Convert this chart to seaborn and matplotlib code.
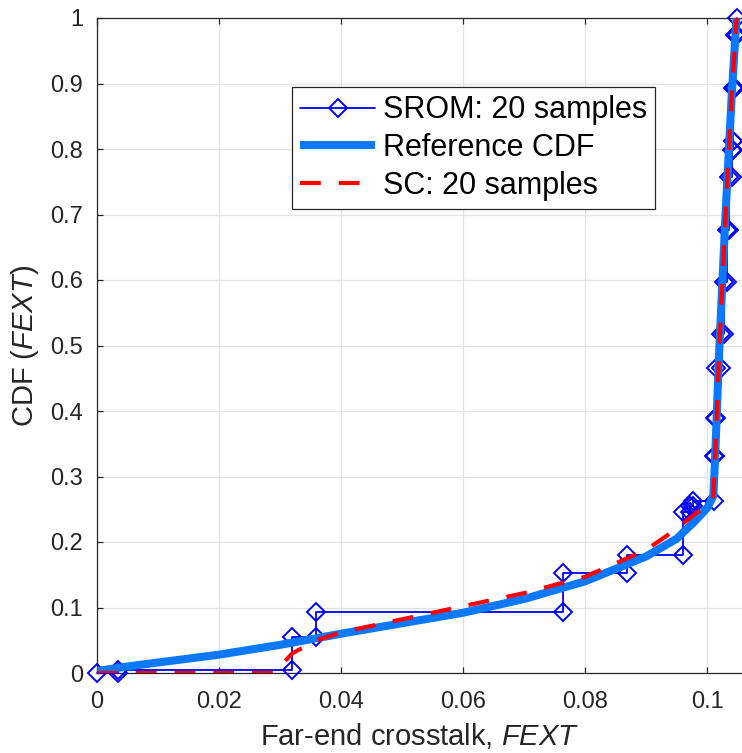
import numpy as np
import pandas as pd
import matplotlib
matplotlib.use("Agg")
import matplotlib.pyplot as plt
import seaborn as sns

# ---------------- data ----------------
srom_x = [0.0034, 0.0320, 0.0359, 0.0764, 0.0869, 0.0960, 0.0972, 0.0976,
          0.1011, 0.1012, 0.1014, 0.1022, 0.1027, 0.1033, 0.1035, 0.1041,
          0.1042, 0.1043, 0.1046, 0.1048]
srom_cdf = [0.005, 0.055, 0.093, 0.153, 0.180, 0.246, 0.255, 0.262,
            0.331, 0.390, 0.466, 0.518, 0.597, 0.676, 0.757, 0.798,
            0.812, 0.893, 0.974, 1.000]

ref_x = [0.0, 0.005, 0.01, 0.02, 0.03, 0.04, 0.05, 0.06, 0.07, 0.08, 0.09,
         0.095, 0.098, 0.1, 0.101, 0.1013, 0.102, 0.103, 0.104, 0.1048]
ref_cdf = [0.003, 0.010, 0.016, 0.028, 0.043, 0.060, 0.076, 0.092, 0.113,
           0.140, 0.178, 0.205, 0.232, 0.252, 0.270, 0.330, 0.500, 0.700,
           0.880, 1.000]

sc_x = [0.0, 0.029, 0.031, 0.032, 0.036, 0.04, 0.05, 0.06, 0.07, 0.08, 0.09,
        0.095, 0.098, 0.1, 0.101, 0.1013, 0.102, 0.103, 0.104, 0.1048]
sc_cdf = [0.0, 0.0, 0.020, 0.030, 0.050, 0.062, 0.082, 0.102, 0.122, 0.147,
          0.188, 0.220, 0.243, 0.256, 0.270, 0.330, 0.500, 0.700, 0.880, 1.000]

x_ticks = [0, 0.02, 0.04, 0.06, 0.08, 0.1]
x_ticklabels = ["0", "0.02", "0.04", "0.06", "0.08", "0.1"]
y_ticks = [0, 0.1, 0.2, 0.3, 0.4, 0.5, 0.6, 0.7, 0.8, 0.9, 1.0]
y_ticklabels = ["0", "0.1", "0.2", "0.3", "0.4", "0.5", "0.6", "0.7", "0.8", "0.9", "1"]

labels = ["SROM: 20 samples", "Reference CDF", "SC: 20 samples"]

# ---------------- style ----------------
sns.set_theme(style="whitegrid")
plt.rcParams["font.family"] = ["Liberation Sans", "DejaVu Sans"]
plt.rcParams["mathtext.fontset"] = "custom"
plt.rcParams["mathtext.rm"] = "Liberation Sans"
plt.rcParams["mathtext.it"] = "Liberation Sans:italic"

fig = plt.figure(figsize=(7.42, 7.53), dpi=100)
ax = fig.add_axes([97 / 742, 80 / 753, (742 - 97) / 742, 655 / 753])

# SROM stair vertices (marker at every corner)
prev = [0.0] + srom_cdf[:-1]
vx = np.concatenate([[0.0], np.repeat(srom_x, 2)])
vy = np.concatenate([[0.0], np.column_stack([prev, srom_cdf]).ravel()])
srom_df = pd.DataFrame({"x": vx, "y": vy})
ref_df = pd.DataFrame({"x": ref_x, "y": ref_cdf})
sc_df = pd.DataFrame({"x": sc_x, "y": sc_cdf})

sns.lineplot(data=srom_df, x="x", y="y", sort=False, estimator=None, ax=ax,
             color="#0000ff", lw=1.3, marker="D", markersize=9,
             markerfacecolor="none", markeredgecolor="#0000ff",
             markeredgewidth=1.4, label=labels[0], zorder=3, clip_on=False)
sns.lineplot(data=ref_df, x="x", y="y", sort=False, estimator=None, ax=ax,
             color="#0a78ff", lw=5.8, label=labels[1], zorder=4,
             solid_capstyle="butt")
sns.lineplot(data=sc_df, x="x", y="y", sort=False, estimator=None, ax=ax,
             color="#ff0000", lw=3, dashes=(5, 4.3), label=labels[2], zorder=5)

ax.set_xlim(0, 0.1057)
ax.set_ylim(0, 1)
ax.set_xticks(x_ticks)
ax.set_xticklabels(x_ticklabels)
ax.set_yticks(y_ticks)
ax.set_yticklabels(y_ticklabels)

ax.set_xlabel("Far-end crosstalk, $\\mathit{FEXT}$", fontsize=21, color="#262626")
ax.set_ylabel("CDF ($\\mathit{FEXT}$)", fontsize=21, color="#262626")
ax.xaxis.set_label_coords(0.5, -0.073)
ax.yaxis.set_label_coords(-0.087, 0.5)

ax.grid(True, color="#e3e3e3", lw=0.9)
ax.set_facecolor("white")
for side in ["left", "bottom", "top"]:
    ax.spines[side].set_visible(True)
    ax.spines[side].set_color("#262626")
    ax.spines[side].set_linewidth(0.9)
ax.spines["right"].set_visible(False)
ax.tick_params(axis="both", direction="in", length=4, width=0.9,
               colors="#262626", labelsize=17, top=True, right=False,
               bottom=True, left=True, labeltop=False, labelright=False)
ax.tick_params(axis="x", pad=13)
ax.tick_params(axis="y", pad=10)

leg = ax.legend(loc="upper left", bbox_to_anchor=(292 / 742, 1 - 87 / 753),
                bbox_transform=fig.transFigure, fontsize=22, frameon=True,
                fancybox=False, edgecolor="#262626", framealpha=1,
                handlelength=2.45, handletextpad=0.26, labelspacing=0.25,
                borderpad=0.27, borderaxespad=0, labelcolor="black")
leg.get_frame().set_linewidth(0.9)

fig.savefig("out.png", dpi=100)
